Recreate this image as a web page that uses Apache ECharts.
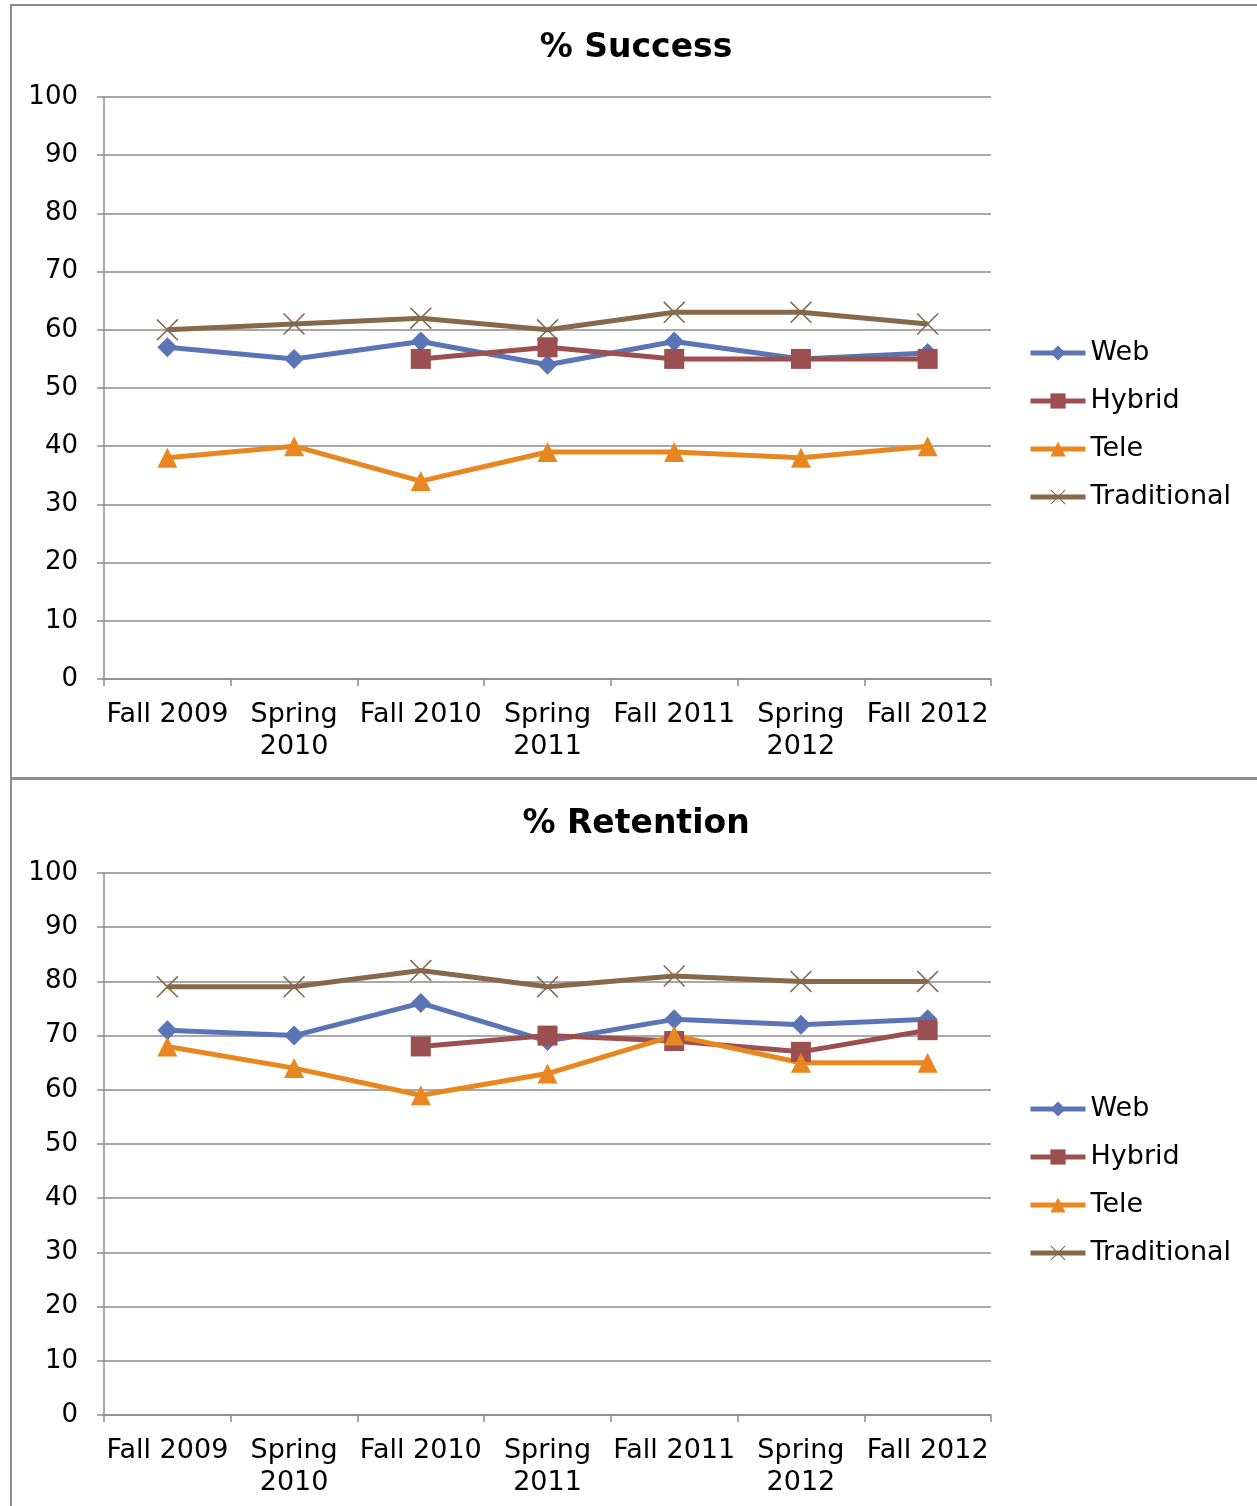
<!DOCTYPE html>
<html>
<head>
<meta charset="utf-8">
<script src="https://cdn.jsdelivr.net/npm/echarts@6/dist/echarts.min.js"></script>
<style>
  html, body { margin: 0; padding: 0; background: #fff; }
  #wrap { position: relative; width: 1257px; height: 1506px; overflow: hidden; }
  #chart { position: absolute; left: 0; top: 0; width: 1257px; height: 1506px; }
  .frame { position: absolute; border: 2px solid #8c8c8c; box-sizing: border-box; pointer-events: none; }
</style>
</head>
<body>
<div id="wrap">
  <div id="chart"></div>
  <div class="frame" style="left:10px; top:4px; width:1260px; height:776px;"></div>
  <div class="frame" style="left:10px; top:777px; width:1260px; height:740px;"></div>
</div>
<script>
// Terms
const terms = ['Fall 2009', 'Spring\n2010', 'Fall 2010', 'Spring\n2011', 'Fall 2011', 'Spring\n2012', 'Fall 2012'];

// % Success by delivery mode
const successWeb = [57, 55, 58, 54, 58, 55, 56];
const successHybrid = [null, null, 55, 57, 55, 55, 55];
const successTele = [38, 40, 34, 39, 39, 38, 40];
const successTraditional = [60, 61, 62, 60, 63, 63, 61];

// % Retention by delivery mode
const retentionWeb = [71, 70, 76, 69, 73, 72, 73];
const retentionHybrid = [null, null, 68, 70, 69, 67, 71];
const retentionTele = [68, 64, 59, 63, 70, 65, 65];
const retentionTraditional = [79, 79, 82, 79, 81, 80, 80];

const yTicks = [0, 10, 20, 30, 40, 50, 60, 70, 80, 90, 100];

const FONT = '"DejaVu Sans", Verdana, sans-serif';
const GRID_GRAY = '#8c8c8c';

const modes = [
  { name: 'Web', color: '#5b74b5', symbol: 'diamond', size: 20 },
  { name: 'Hybrid', color: '#9b4f50', symbol: 'rect', size: 20 },
  { name: 'Tele', color: '#e8871f', symbol: 'triangle', size: 20 },
  { name: 'Traditional', color: '#85694a',
    symbol: 'path://M0,1L1,0L10,9L19,0L20,1L11,10L20,19L19,20L10,11L1,20L0,19L9,10Z', size: 22 }
];

function xAxisFor(gridIndex) {
  return {
    type: 'category', gridIndex, data: terms, boundaryGap: true,
    axisLine: { show: true, lineStyle: { color: GRID_GRAY, width: 1.5 } },
    axisTick: { show: true, length: 7, lineStyle: { color: GRID_GRAY, width: 1.5 } },
    axisLabel: { interval: 0, color: '#000', fontFamily: FONT, fontSize: 27, lineHeight: 32, margin: 20 }
  };
}

function yAxisFor(gridIndex) {
  return {
    type: 'value', gridIndex, min: yTicks[0], max: yTicks[yTicks.length - 1], interval: yTicks[1] - yTicks[0],
    axisLine: { show: true, lineStyle: { color: GRID_GRAY, width: 1.5 } },
    axisTick: { show: true, length: 7, lineStyle: { color: GRID_GRAY, width: 1.5 } },
    splitLine: { show: true, lineStyle: { color: GRID_GRAY, width: 1.5 } },
    axisLabel: { color: '#000', fontFamily: FONT, fontSize: 26, margin: 26, padding: [4, 0, 0, 0] }
  };
}

function seriesFor(gridIndex, values) {
  return modes.map((m, i) => ({
    name: m.name, type: 'line', xAxisIndex: gridIndex, yAxisIndex: gridIndex,
    data: values[i], symbol: m.symbol, symbolSize: m.size, showAllSymbol: true,
    connectNulls: false,
    lineStyle: { color: m.color, width: 5 },
    itemStyle: { color: m.color },
    emphasis: { disabled: true },
    animation: false
  }));
}

function legendFor(top) {
  return {
    orient: 'vertical', left: 1023, top,
    itemWidth: 55, itemHeight: 19, itemGap: 20,
    data: modes.map(m => m.name),
    lineStyle: { width: 5 },
    textStyle: { color: '#000', fontFamily: FONT, fontSize: 27, lineHeight: 28, padding: [0, 0, 0, 0] },
    selectedMode: false
  };
}

const chart = echarts.init(document.getElementById('chart'), null, { renderer: 'canvas' });
chart.setOption({
  animation: false,
  backgroundColor: '#fff',
  title: [
    { text: '% Success', left: 631, top: 27, textAlign: 'center',
      textStyle: { fontFamily: FONT, fontWeight: 'bold', fontSize: 33, color: '#000' } },
    { text: '% Retention', left: 631, top: 803, textAlign: 'center',
      textStyle: { fontFamily: FONT, fontWeight: 'bold', fontSize: 33, color: '#000' } }
  ],
  legend: [
    Object.assign(legendFor(334), { id: 'l1' }),
    Object.assign(legendFor(1090), { id: 'l2' })
  ],
  grid: [
    { left: 104, top: 97, width: 887, height: 582 },
    { left: 104, top: 873, width: 887, height: 542 }
  ],
  xAxis: [xAxisFor(0), xAxisFor(1)],
  yAxis: [yAxisFor(0), yAxisFor(1)],
  series: [
    ...seriesFor(0, [successWeb, successHybrid, successTele, successTraditional]),
    ...seriesFor(1, [retentionWeb, retentionHybrid, retentionTele, retentionTraditional])
  ]
});
</script>
</body>
</html>
